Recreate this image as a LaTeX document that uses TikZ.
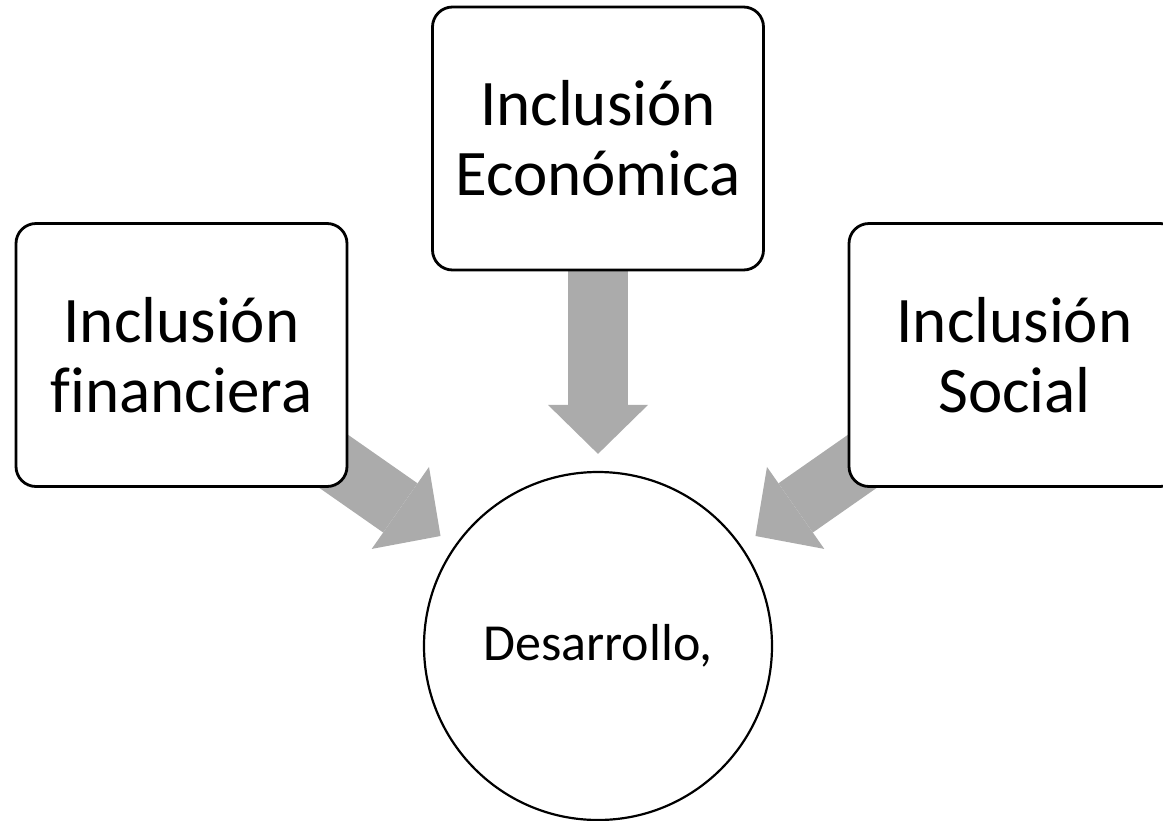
\documentclass[tikz,border=0pt]{standalone}
\usepackage{fontspec}
\setmainfont{Carlito}[Ligatures=NoCommon]
\usetikzlibrary{arrows.meta,backgrounds}
\definecolor{grisflecha}{RGB}{171,171,171}
\begin{document}
\begin{tikzpicture}[x=1pt,y=-1pt,line join=round,
	caja/.style={draw,line width=2.8pt,rounded corners=20pt,fill=white,minimum width=331pt,minimum height=263pt,align=center,font=\fontsize{65}{70}\selectfont},
	meta/.style={draw,circle,line width=2.2pt,fill=white,minimum size=348pt,font=\fontsize{52}{60}\selectfont},
	flecha/.style={draw=grisflecha,line width=60pt,-{Triangle[width=100pt,length=49pt,line width=0pt]},shorten >=17pt}]
	
	\useasboundingbox (0,0) rectangle (1163,820);
	\clip (0,0) rectangle (1163,820);
	\node[caja] (eco) at (598,138.5) {Inclusión\\Económica};
	\node[caja] (fin) at (181.5,355) {Inclusión\\financiera};
	\node[caja] (soc) at (1014.5,355) {Inclusión\\Social};
	\node[meta] (des) at (598,646) {Desarrollo,};
	\begin{scope}[on background layer]
		\draw[flecha] (eco.center) -- (des); % flecha de arriba
		\draw[flecha] (fin.center) -- (des);
		\draw[flecha] (soc.center) -- (des);
	\end{scope}
\end{tikzpicture}
\end{document}
